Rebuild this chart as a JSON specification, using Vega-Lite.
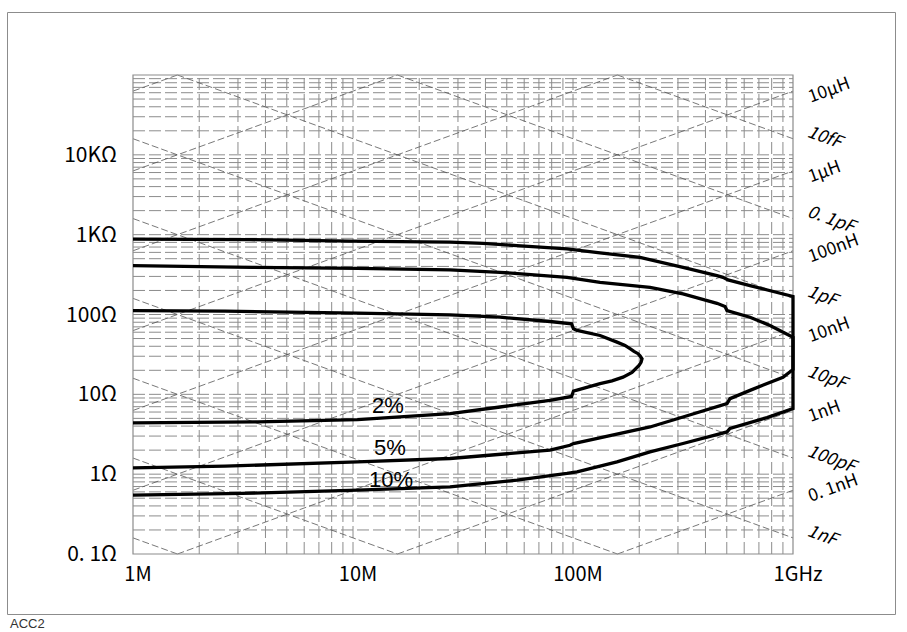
{
  "$schema": "https://vega.github.io/schema/vega-lite/v6.json",
  "width": 888,
  "height": 602,
  "autosize": {"type": "none"},
  "padding": {"left": 7, "top": 12, "right": 12, "bottom": 18},
  "background": "white",
  "title": {"text": "ACC2", "orient": "bottom", "anchor": "start", "frame": "group", "fontSize": 13, "fontWeight": "normal", "font": "Liberation Sans, Arial, sans-serif", "color": "#333333", "offset": 4, "dx": 3},
  "datasets": {
    "vgrid": [{"f": 2}, {"f": 3}, {"f": 4}, {"f": 5}, {"f": 6}, {"f": 7}, {"f": 8}, {"f": 9}, {"f": 10}, {"f": 20}, {"f": 30}, {"f": 40}, {"f": 50}, {"f": 60}, {"f": 70}, {"f": 80}, {"f": 90}, {"f": 100}, {"f": 200}, {"f": 300}, {"f": 400}, {"f": 500}, {"f": 600}, {"f": 700}, {"f": 800}, {"f": 900}],
    "hgrid": [{"z": 0.2}, {"z": 0.3}, {"z": 0.4}, {"z": 0.5}, {"z": 0.6}, {"z": 0.7}, {"z": 0.8}, {"z": 0.9}, {"z": 1}, {"z": 2}, {"z": 3}, {"z": 4}, {"z": 5}, {"z": 6}, {"z": 7}, {"z": 8}, {"z": 9}, {"z": 10}, {"z": 20}, {"z": 30}, {"z": 40}, {"z": 50}, {"z": 60}, {"z": 70}, {"z": 80}, {"z": 90}, {"z": 100}, {"z": 200}, {"z": 300}, {"z": 400}, {"z": 500}, {"z": 600}, {"z": 700}, {"z": 800}, {"z": 900}, {"z": 1000}, {"z": 2000}, {"z": 3000}, {"z": 4000}, {"z": 5000}, {"z": 6000}, {"z": 7000}, {"z": 8000}, {"z": 9000}, {"z": 10000}, {"z": 20000}, {"z": 30000}, {"z": 40000}, {"z": 50000}, {"z": 60000}, {"z": 70000}, {"z": 80000}, {"z": 90000}],
    "diag": [
      {"id": "L-10", "f": 159.2, "z": 0.1}, {"id": "L-10", "f": 1000, "z": 0.6283},
      {"id": "L-9", "f": 15.92, "z": 0.1}, {"id": "L-9", "f": 1000, "z": 6.283},
      {"id": "L-8", "f": 1.592, "z": 0.1}, {"id": "L-8", "f": 1000, "z": 62.83},
      {"id": "L-7", "f": 1, "z": 0.6283}, {"id": "L-7", "f": 1000, "z": 628.3},
      {"id": "L-6", "f": 1, "z": 6.283}, {"id": "L-6", "f": 1000, "z": 6283},
      {"id": "L-5", "f": 1, "z": 62.83}, {"id": "L-5", "f": 1000, "z": 62832},
      {"id": "L-4", "f": 1, "z": 628.3}, {"id": "L-4", "f": 159.2, "z": 100000},
      {"id": "L-3", "f": 1, "z": 6283}, {"id": "L-3", "f": 15.92, "z": 100000},
      {"id": "L-2", "f": 1, "z": 62832}, {"id": "L-2", "f": 1.592, "z": 100000},
      {"id": "C-14", "f": 159.2, "z": 100000}, {"id": "C-14", "f": 1000, "z": 15915},
      {"id": "C-13", "f": 15.92, "z": 100000}, {"id": "C-13", "f": 1000, "z": 1591.5},
      {"id": "C-12", "f": 1.592, "z": 100000}, {"id": "C-12", "f": 1000, "z": 159.15},
      {"id": "C-11", "f": 1, "z": 15915}, {"id": "C-11", "f": 1000, "z": 15.915},
      {"id": "C-10", "f": 1, "z": 1591.5}, {"id": "C-10", "f": 1000, "z": 1.5915},
      {"id": "C-9", "f": 1, "z": 159.15}, {"id": "C-9", "f": 1000, "z": 0.15915},
      {"id": "C-8", "f": 1, "z": 15.915}, {"id": "C-8", "f": 159.2, "z": 0.1},
      {"id": "C-7", "f": 1, "z": 1.5915}, {"id": "C-7", "f": 15.92, "z": 0.1},
      {"id": "C-6", "f": 1, "z": 0.15915}, {"id": "C-6", "f": 1.592, "z": 0.1}
    ],
    "curves": [
      {"c": "2%", "k": 1, "f": 1, "z": 112}, {"c": "2%", "k": 2, "f": 2.62, "z": 110}, {"c": "2%", "k": 3, "f": 10.5, "z": 104}, {"c": "2%", "k": 4, "f": 27.6, "z": 99.1}, {"c": "2%", "k": 5, "f": 46.6, "z": 92.5}, {"c": "2%", "k": 6, "f": 78.6, "z": 81.7}, {"c": "2%", "k": 7, "f": 98.5, "z": 76.5}, {"c": "2%", "k": 8, "f": 100.5, "z": 66.2}, {"c": "2%", "k": 9, "f": 104.3, "z": 63.1}, {"c": "2%", "k": 10, "f": 132.7, "z": 54.6}, {"c": "2%", "k": 11, "f": 158.5, "z": 45.1}, {"c": "2%", "k": 12, "f": 172.3, "z": 41.0}, {"c": "2%", "k": 13, "f": 181.6, "z": 37.3}, {"c": "2%", "k": 14, "f": 189.3, "z": 34.5}, {"c": "2%", "k": 15, "f": 197.5, "z": 32.3}, {"c": "2%", "k": 16, "f": 201.6, "z": 30.3}, {"c": "2%", "k": 17, "f": 205.9, "z": 27.9}, {"c": "2%", "k": 18, "f": 203.8, "z": 25.1}, {"c": "2%", "k": 19, "f": 199.5, "z": 23.0}, {"c": "2%", "k": 20, "f": 185.4, "z": 18.8}, {"c": "2%", "k": 21, "f": 168.8, "z": 16.4}, {"c": "2%", "k": 22, "f": 150.4, "z": 14.75}, {"c": "2%", "k": 23, "f": 132.7, "z": 13.6}, {"c": "2%", "k": 24, "f": 104.3, "z": 11.3}, {"c": "2%", "k": 25, "f": 100.5, "z": 11.0}, {"c": "2%", "k": 26, "f": 98.5, "z": 9.4}, {"c": "2%", "k": 27, "f": 78.6, "z": 8.41}, {"c": "2%", "k": 28, "f": 46.6, "z": 6.94}, {"c": "2%", "k": 29, "f": 27.6, "z": 5.74}, {"c": "2%", "k": 30, "f": 10.5, "z": 4.83}, {"c": "2%", "k": 31, "f": 3.7, "z": 4.51}, {"c": "2%", "k": 32, "f": 1, "z": 4.38},
      {"c": "5%", "k": 1, "f": 1, "z": 410}, {"c": "5%", "k": 2, "f": 3.48, "z": 390}, {"c": "5%", "k": 3, "f": 10.5, "z": 379}, {"c": "5%", "k": 4, "f": 27.6, "z": 362}, {"c": "5%", "k": 5, "f": 46.6, "z": 338}, {"c": "5%", "k": 6, "f": 93.9, "z": 292}, {"c": "5%", "k": 7, "f": 132.7, "z": 253}, {"c": "5%", "k": 8, "f": 223.9, "z": 219}, {"c": "5%", "k": 9, "f": 316.2, "z": 181.5}, {"c": "5%", "k": 10, "f": 451.3, "z": 138}, {"c": "5%", "k": 11, "f": 490.9, "z": 126}, {"c": "5%", "k": 12, "f": 501.2, "z": 112}, {"c": "5%", "k": 13, "f": 637.6, "z": 92.5}, {"c": "5%", "k": 14, "f": 786, "z": 72.9}, {"c": "5%", "k": 15, "f": 1000, "z": 52}, {"c": "5%", "k": 16, "f": 1000, "z": 20.5}, {"c": "5%", "k": 17, "f": 900.7, "z": 16.4}, {"c": "5%", "k": 18, "f": 637.6, "z": 11.2}, {"c": "5%", "k": 19, "f": 517.1, "z": 8.83}, {"c": "5%", "k": 20, "f": 501.2, "z": 7.65}, {"c": "5%", "k": 21, "f": 316.2, "z": 5.2}, {"c": "5%", "k": 22, "f": 223.9, "z": 3.9}, {"c": "5%", "k": 23, "f": 100.5, "z": 2.42}, {"c": "5%", "k": 24, "f": 96.9, "z": 2.3}, {"c": "5%", "k": 25, "f": 78.6, "z": 2.0}, {"c": "5%", "k": 26, "f": 27.6, "z": 1.571}, {"c": "5%", "k": 27, "f": 10.5, "z": 1.425}, {"c": "5%", "k": 28, "f": 2.62, "z": 1.259}, {"c": "5%", "k": 29, "f": 1, "z": 1.2},
      {"c": "10%", "k": 1, "f": 1, "z": 878}, {"c": "10%", "k": 2, "f": 3.4, "z": 866}, {"c": "10%", "k": 3, "f": 9.69, "z": 829}, {"c": "10%", "k": 4, "f": 27.6, "z": 806}, {"c": "10%", "k": 5, "f": 38.98, "z": 778}, {"c": "10%", "k": 6, "f": 55.66, "z": 729}, {"c": "10%", "k": 7, "f": 93.9, "z": 662}, {"c": "10%", "k": 8, "f": 132.7, "z": 590}, {"c": "10%", "k": 9, "f": 201.6, "z": 520}, {"c": "10%", "k": 10, "f": 316.2, "z": 390}, {"c": "10%", "k": 11, "f": 451.3, "z": 307}, {"c": "10%", "k": 12, "f": 480.7, "z": 292}, {"c": "10%", "k": 13, "f": 506.4, "z": 271}, {"c": "10%", "k": 14, "f": 637.6, "z": 230}, {"c": "10%", "k": 15, "f": 1000, "z": 168}, {"c": "10%", "k": 16, "f": 1000, "z": 6.62}, {"c": "10%", "k": 17, "f": 761.8, "z": 5.11}, {"c": "10%", "k": 18, "f": 517.1, "z": 3.73}, {"c": "10%", "k": 19, "f": 501.2, "z": 3.38}, {"c": "10%", "k": 20, "f": 316.2, "z": 2.42}, {"c": "10%", "k": 21, "f": 223.9, "z": 1.9}, {"c": "10%", "k": 22, "f": 158.5, "z": 1.425}, {"c": "10%", "k": 23, "f": 104.3, "z": 1.07}, {"c": "10%", "k": 24, "f": 93.9, "z": 1.02}, {"c": "10%", "k": 25, "f": 55.66, "z": 0.841}, {"c": "10%", "k": 26, "f": 27.6, "z": 0.694}, {"c": "10%", "k": 27, "f": 10.5, "z": 0.631}, {"c": "10%", "k": 28, "f": 3.13, "z": 0.574}, {"c": "10%", "k": 29, "f": 1, "z": 0.546}
    ],
    "pct": [{"t": "2%", "f": 14.4, "z": 7.08}, {"t": "5%", "f": 14.7, "z": 2.1}, {"t": "10%", "f": 14.9, "z": 0.84}],
    "xlab": [{"t": "1M", "f": 1, "z": 0.1}, {"t": "10M", "f": 10, "z": 0.1}, {"t": "100M", "f": 100, "z": 0.1}, {"t": "1GHz", "f": 1000, "z": 0.1}],
    "ylab": [{"t": "0. 1Ω", "f": 1, "z": 0.1}, {"t": "1Ω", "f": 1, "z": 1}, {"t": "10Ω", "f": 1, "z": 10}, {"t": "100Ω", "f": 1, "z": 100}, {"t": "1KΩ", "f": 1, "z": 1000}, {"t": "10KΩ", "f": 1, "z": 10000}],
    "lc": [
      {"t": "10μH", "kind": "L", "f": 1000, "z": 62832},
      {"t": "1μH", "kind": "L", "f": 1000, "z": 6283},
      {"t": "100nH", "kind": "L", "f": 1000, "z": 628.3},
      {"t": "10nH", "kind": "L", "f": 1000, "z": 62.83},
      {"t": "1nH", "kind": "L", "f": 1000, "z": 6.283},
      {"t": "0. 1nH", "kind": "L", "f": 1000, "z": 0.6283},
      {"t": "10fF", "kind": "C", "f": 1000, "z": 15915},
      {"t": "0. 1pF", "kind": "C", "f": 1000, "z": 1591.5},
      {"t": "1pF", "kind": "C", "f": 1000, "z": 159.15},
      {"t": "10pF", "kind": "C", "f": 1000, "z": 15.915},
      {"t": "100pF", "kind": "C", "f": 1000, "z": 1.5915},
      {"t": "1nF", "kind": "C", "f": 1000, "z": 0.15915}
    ]
  },
  "layer": [
    {
      "data": {"name": "vgrid"},
      "mark": {"type": "rule", "stroke": "#8c8c8c", "strokeWidth": 1, "strokeDash": [12, 4]},
      "encoding": {
        "x": {"field": "f", "type": "quantitative", "scale": {"type": "log", "domain": [1, 1000], "range": [126, 786], "nice": false}, "axis": null},
        "y": {"datum": 0.1, "type": "quantitative", "scale": {"type": "log", "domain": [0.1, 100000], "range": [542, 63], "nice": false}, "axis": null},
        "y2": {"datum": 100000}
      }
    },
    {
      "data": {"name": "hgrid"},
      "mark": {"type": "rule", "stroke": "#8c8c8c", "strokeWidth": 1, "strokeDash": [12, 4]},
      "encoding": {
        "y": {"field": "z", "type": "quantitative", "axis": null},
        "x": {"datum": 1, "type": "quantitative", "axis": null},
        "x2": {"datum": 1000}
      }
    },
    {
      "data": {"name": "diag"},
      "mark": {"type": "line", "stroke": "#555555", "strokeWidth": 0.8, "strokeDash": [7, 3]},
      "encoding": {
        "x": {"field": "f", "type": "quantitative", "axis": null},
        "y": {"field": "z", "type": "quantitative", "axis": null},
        "detail": {"field": "id"}
      }
    },
    {
      "data": {"values": [{"frame": "plot"}]},
      "mark": {"type": "rect", "fill": null, "fillOpacity": 0, "stroke": "#8c8c8c", "strokeWidth": 1.2},
      "encoding": {
        "x": {"datum": 1, "type": "quantitative", "axis": null},
        "x2": {"datum": 1000},
        "y": {"datum": 0.1, "type": "quantitative", "axis": null},
        "y2": {"datum": 100000}
      }
    },
    {
      "data": {"name": "curves"},
      "mark": {"type": "line", "stroke": "#000000", "strokeWidth": 3.3},
      "encoding": {
        "x": {"field": "f", "type": "quantitative", "axis": null},
        "y": {"field": "z", "type": "quantitative", "axis": null},
        "detail": {"field": "c"},
        "order": {"field": "k", "type": "quantitative"}
      }
    },
    {
      "data": {"name": "pct"},
      "mark": {"type": "text", "font": "Liberation Sans, Arial, sans-serif", "fontSize": 22, "align": "center", "baseline": "middle", "color": "#000000"},
      "encoding": {
        "x": {"field": "f", "type": "quantitative", "axis": null},
        "y": {"field": "z", "type": "quantitative", "axis": null},
        "text": {"field": "t"}
      }
    },
    {
      "data": {"name": "xlab"},
      "mark": {"type": "text", "font": "Noto Sans CJK JP, sans-serif", "fontSize": 20, "align": "center", "baseline": "middle", "dx": 5, "dy": 21, "color": "#000000"},
      "encoding": {
        "x": {"field": "f", "type": "quantitative", "axis": null},
        "y": {"field": "z", "type": "quantitative", "axis": null},
        "text": {"field": "t"}
      }
    },
    {
      "data": {"name": "ylab"},
      "mark": {"type": "text", "font": "Noto Sans CJK JP, sans-serif", "fontSize": 21, "align": "right", "baseline": "middle", "dx": -16, "dy": 1, "color": "#000000"},
      "encoding": {
        "x": {"field": "f", "type": "quantitative", "axis": null},
        "y": {"field": "z", "type": "quantitative", "axis": null},
        "text": {"field": "t"}
      }
    },
    {
      "data": {"name": "lc"},
      "transform": [{"filter": "datum.kind == 'L'"}],
      "mark": {"type": "text", "font": "Noto Sans CJK JP, sans-serif", "fontSize": 17.5, "align": "left", "baseline": "middle", "angle": -20, "dx": 12.6, "dy": 12, "color": "#000000"},
      "encoding": {
        "x": {"field": "f", "type": "quantitative", "axis": null},
        "y": {"field": "z", "type": "quantitative", "axis": null},
        "text": {"field": "t"}
      }
    },
    {
      "data": {"name": "lc"},
      "transform": [{"filter": "datum.kind == 'C'"}],
      "mark": {"type": "text", "font": "Noto Sans CJK JP, sans-serif", "fontSize": 17.5, "fontStyle": "italic", "align": "left", "baseline": "middle", "angle": 20, "dx": 11.7, "dy": -11.7, "color": "#000000"},
      "encoding": {
        "x": {"field": "f", "type": "quantitative", "axis": null},
        "y": {"field": "z", "type": "quantitative", "axis": null},
        "text": {"field": "t"}
      }
    }
  ],
  "config": {
    "view": {"stroke": "#8c8c8c", "strokeWidth": 1}
  }
}
